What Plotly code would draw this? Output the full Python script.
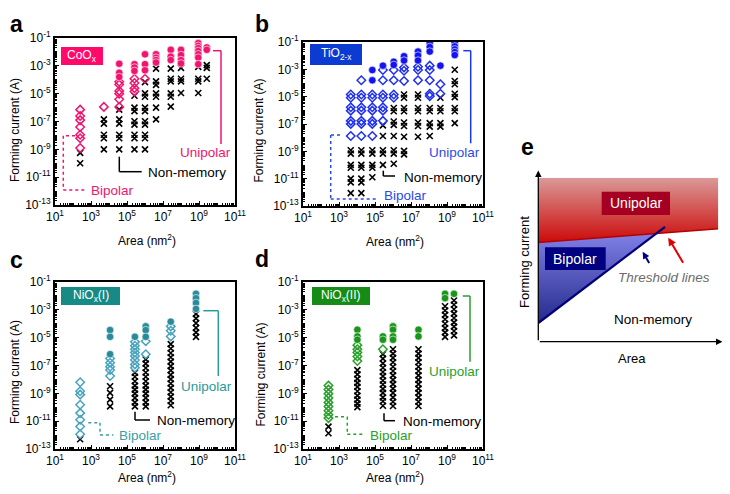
import plotly.graph_objects as go

W, H = 730, 494          # browser window
OFF = 8                  # default page body margin
FW, FH = W - OFF, H - OFF  # figure size so that it fits the window exactly
FONT = "Liberation Sans, Arial, sans-serif"

# ---------------- data (area in nm^2, forming current in A) ----------------
# Panel a: CoOx
coox_area = [2.5e2, 5.2e3, 3.7e4, 2.6e5, 1.0e6, 4.1e6, 2.7e7, 1.0e8, 9.1e8, 2.7e9]
coox_uni = [[], [], [1.41e-3, 3.16e-4, 1.58e-4], [1.32e-3, 7.6e-4, 4.3e-4],
            [6.8e-3, 1.32e-3, 4.8e-4], [6.8e-3, 3.9e-3, 2.6e-3, 1.74e-3],
            [1.41e-2, 4.6e-3, 2.6e-3], [1.41e-2, 6.0e-3, 2.6e-3, 1.48e-3],
            [4.3e-2, 2.75e-2, 1.86e-2, 1.17e-2, 6.8e-3, 3.9e-3, 1.32e-3],
            [2.1e-2, 1.41e-2]]
coox_bi = [[7.1e-7, 2.5e-7, 1.26e-7, 4.0e-8, 1.12e-8, 6.3e-9, 1.26e-9], [1.12e-6],
           [7.1e-5, 4.5e-5, 1.58e-5, 1.0e-5, 4.0e-6, 1.12e-6],
           [1.17e-4, 5.8e-5, 2.5e-5, 1.41e-5], [1.17e-4], [], [], [], [], []]
coox_non = [[5.6e-10, 1.0e-10],
            [1.41e-7, 7.1e-8, 1.12e-8, 6.3e-9, 1.0e-9],
            [7.1e-7, 1.41e-7, 7.1e-8, 1.12e-8, 6.3e-9, 1.0e-9],
            [7.1e-6, 1.0e-6, 5.6e-7, 1.05e-7, 6.0e-8, 1.12e-8, 6.3e-9, 1.0e-9],
            [6.8e-5, 1.05e-5, 6.0e-6, 1.0e-6, 5.6e-7, 1.05e-7, 6.0e-8, 1.12e-8, 6.3e-9, 1.0e-9],
            [6.3e-4, 7.6e-5, 4.3e-5, 1.05e-5, 6.0e-6, 1.0e-6, 1.41e-7],
            [6.3e-4, 1.17e-4, 7.6e-5, 1.05e-5, 6.0e-6, 1.17e-6],
            [7.1e-4, 1.17e-4, 7.6e-5, 1.12e-5],
            [8.5e-4, 1.17e-4, 7.6e-5, 1.12e-5],
            [1.12e-3, 7.1e-4, 1.17e-4]]

# Panel b: TiO2-x
tio2_area = [4.5e3, 1.74e4, 7.1e4, 2.75e5, 1.1e6, 4.1e6, 2.45e7, 1.1e8, 4.3e8, 2.7e9]
tio2_uni = [[], [], [8.9e-4, 1.58e-4], [1.86e-3], [3.6e-3, 2.1e-3], [9.1e-3, 4.4e-3],
            [2.0e-2, 1.02e-2, 4.4e-3], [8.5e-2, 4.3e-2, 2.0e-2], [1.86e-3],
            [8.9e-2, 4.8e-2, 2.9e-2, 1.82e-2, 1.1e-2]]
tio2_bi = [[1.45e-5, 8.3e-6, 1.66e-6, 9.5e-7, 1.7e-7, 1.02e-7, 1.32e-8],
           [1.58e-4, 1.45e-5, 8.3e-6, 1.66e-6, 9.5e-7, 1.7e-7, 1.02e-7, 1.32e-8],
           [1.45e-5, 8.3e-6, 1.66e-6, 9.5e-7, 1.7e-7, 1.02e-7, 1.32e-8],
           [8.9e-4, 1.58e-4, 1.45e-5, 8.3e-6, 1.66e-6, 9.5e-7, 1.7e-7],
           [8.9e-4, 1.58e-4, 1.45e-5, 8.3e-6],
           [1.38e-3, 7.9e-4, 1.41e-4],
           [1.55e-3, 8.9e-4, 1.58e-4],
           [1.86e-3, 8.9e-4, 1.58e-4, 1.62e-5, 1.1e-5],
           [8.1e-5, 1.62e-5], []]
tio2_non = [[1.2e-9, 6.8e-10, 1.02e-10, 6.3e-11, 1.0e-11, 5.4e-12, 8.7e-13],
            [1.2e-9, 6.8e-10, 1.02e-10, 6.3e-11, 1.0e-11, 5.4e-12, 8.7e-13],
            [1.2e-9, 6.8e-10, 1.02e-10, 6.3e-11, 1.26e-11],
            [7.9e-8, 1.32e-8, 1.2e-9, 6.8e-10, 1.02e-10],
            [1.48e-6, 8.5e-7, 1.51e-7, 8.7e-8, 1.32e-8, 1.2e-9, 6.8e-10, 1.23e-10],
            [1.45e-5, 8.3e-6, 1.48e-6, 8.5e-7, 1.29e-7, 7.2e-8, 1.17e-8, 1.07e-9, 6.0e-10],
            [1.45e-5, 8.3e-6, 1.48e-6, 8.5e-7, 1.29e-7, 7.2e-8, 1.17e-8],
            [1.48e-6, 8.5e-7, 1.15e-7, 6.5e-8, 1.32e-8],
            [8.3e-6, 1.48e-6, 8.5e-7, 1.15e-7, 6.5e-8],
            [9.3e-4, 1.41e-4, 8.1e-5, 1.62e-5, 9.3e-6, 1.48e-6, 8.5e-7, 1.15e-7]]

# Panel c: NiOx(I)
nio1_area = [2.5e2, 1.15e4, 2.75e5, 1.1e6, 2.7e7, 6.8e8]
nio1_uni = [[], [3.5e-5, 1.15e-5, 6.5e-7], [1.15e-5], [6.5e-5, 3.5e-5, 1.15e-5],
            [1.41e-4], [1.41e-2, 6.9e-3, 3.16e-3, 1.17e-3]]
nio1_bi = [[6.3e-9, 1.41e-9, 8.1e-10, 1.51e-10, 3.8e-11, 1.26e-11, 4.1e-12, 1.15e-12],
           [3.16e-7, 1.58e-7, 8.1e-8, 4.7e-8, 1.74e-8],
           [5.0e-6, 2.6e-6, 1.48e-6, 8.5e-7, 4.9e-7, 2.5e-7, 1.2e-7, 6.9e-8],
           [5.6e-6, 6.5e-7],
           [6.5e-5, 3.16e-5, 1.23e-5], []]
nio1_non = [[5.0e-13],
            [3.2e-9, 1.07e-9, 3.5e-10, 1.15e-10],
            [3.0e-8, 1.55e-8, 7.4e-9, 3.6e-9, 1.86e-9, 9.5e-10, 4.7e-10, 2.24e-10, 1.15e-10],
            [2.75e-7, 1.35e-7, 6.6e-8, 3.16e-8, 1.55e-8, 7.4e-9, 3.6e-9, 1.86e-9, 9.5e-10,
             4.7e-10, 2.24e-10, 1.15e-10],
            [3.4e-6, 1.66e-6, 7.9e-7, 3.9e-7, 1.9e-7, 9.1e-8, 4.5e-8, 2.1e-8, 1.05e-8, 5.1e-9,
             2.45e-9, 1.2e-9, 5.8e-10, 2.8e-10, 1.38e-10],
            [5.1e-4, 2.45e-4, 1.12e-4, 5.1e-5, 2.4e-5, 1.15e-5]]

# Panel d: NiOx(II)
nio2_area = [2.6e2, 1.05e4, 2.75e5, 1.0e6, 2.6e7, 7.8e8, 2.45e9]
nio2_uni = [[], [3.7e-5, 1.23e-5, 7.1e-6], [1.23e-5, 7.1e-6],
            [6.5e-5, 3.7e-5, 1.23e-5, 7.1e-6], [3.7e-5, 1.23e-5], [1.41e-2, 6.9e-3], [1.41e-2]]
nio2_bi = [[3.6e-9, 1.86e-9, 9.5e-10, 4.7e-10, 2.24e-10, 1.15e-10, 5.6e-11, 2.9e-11, 1.66e-11],
           [2.9e-6, 1.48e-6, 8.5e-7, 4.4e-7, 2.1e-7], [1.48e-6], [], [], [], []]
nio2_non = [[4.1e-12, 1.35e-12],
            [4.7e-8, 2.3e-8, 1.1e-8, 5.6e-9, 2.9e-9, 1.41e-9, 6.9e-10, 3.5e-10, 1.82e-10, 1.02e-10],
            [6.5e-7, 3.1e-7, 1.41e-7, 6.9e-8, 3.4e-8, 1.74e-8, 8.3e-9, 4.3e-9, 2.1e-9, 1.07e-9,
             5.1e-10, 2.7e-10, 1.29e-10],
            [1.48e-6, 7.2e-7, 3.5e-7, 1.7e-7, 8.1e-8, 4.0e-8, 1.95e-8, 9.3e-9, 4.6e-9, 2.2e-9,
             1.07e-9, 5.1e-10, 2.5e-10, 1.23e-10],
            [1.48e-6, 7.2e-7, 3.5e-7, 1.7e-7, 8.1e-8, 4.0e-8, 1.95e-8, 9.3e-9, 4.6e-9, 2.2e-9,
             1.07e-9, 5.1e-10, 2.5e-10, 1.23e-10],
            [1.82e-3, 8.9e-4, 4.3e-4, 2.1e-4, 1.0e-4, 4.9e-5, 2.4e-5, 1.15e-5],
            [4.7e-3, 2.3e-3, 1.1e-3, 5.4e-4, 2.6e-4, 1.26e-4, 6.2e-5, 3.0e-5, 1.45e-5]]

# tick labels
x_tickvals = [1e1, 1e3, 1e5, 1e7, 1e9, 1e11]
x_ticktext = ["10<sup>1</sup>", "10<sup>3</sup>", "10<sup>5</sup>", "10<sup>7</sup>",
              "10<sup>9</sup>", "10<sup>11</sup>"]
y_tickvals = [1e-1, 1e-3, 1e-5, 1e-7, 1e-9, 1e-11, 1e-13]
y_ticktext = ["10<sup>-1</sup>", "10<sup>-3</sup>", "10<sup>-5</sup>", "10<sup>-7</sup>",
              "10<sup>-9</sup>", "10<sup>-11</sup>", "10<sup>-13</sup>"]

# Panel e schematic (normalised axes 0..1)
uni_region_x = [0, 1, 1, 0]
uni_region_y = [1, 1, 0.689, 0.605]
uni_threshold_x = [0, 1]
uni_threshold_y = [0.605, 0.689]
bi_region_x = [0, 0, 0.656]
bi_region_y = [0.605, 0.114, 0.66]
bi_threshold_x = [0, 0.704]
bi_threshold_y = [0.114, 0.70]

# ---------------- helpers (page pixel -> paper fraction) ----------------
def px(x):
    return (x - OFF) / FW


def py(y):
    return 1 - (y - OFF) / FH


fig = go.Figure()
shapes = []
annotations = []


def flat(areas, cols):
    xs, ys = [], []
    for a, col in zip(areas, cols):
        xs += [a] * len(col)
        ys += list(col)
    return xs, ys


def add_text(x, y, text, size=13.5, color="black", xanchor="center", angle=0,
             italic=False, bold=False):
    f = dict(family=FONT, size=size, color=color)
    if italic:
        f["style"] = "italic"
    if bold:
        f["weight"] = "bold"
    annotations.append(dict(x=px(x), y=py(y), xref="paper", yref="paper", text=text,
                            showarrow=False, font=f, xanchor=xanchor, yanchor="middle",
                            textangle=angle))


def poly(points, color, dash="solid", width=1.5):
    for (x0, y0), (x1, y1) in zip(points[:-1], points[1:]):
        shapes.append(dict(type="line", xref="paper", yref="paper",
                           x0=px(x0), y0=py(y0), x1=px(x1), y1=py(y1),
                           line=dict(color=color, width=width, dash=dash)))


def box(x0, y0, x1, y1, fill, text, size=12):
    shapes.append(dict(type="rect", xref="paper", yref="paper", x0=px(x0), y0=py(y1),
                       x1=px(x1), y1=py(y0), fillcolor=fill, line=dict(width=0)))
    add_text((x0 + x1) / 2, (y0 + y1) / 2, text, size=size, color="white")


panels = [
    dict(ax="", areas=coox_area, uni=coox_uni, bi=coox_bi, non=coox_non,
         cu="#f0146e", cb="#f0146e", dom=(55, 235, 38, 205)),
    dict(ax="2", areas=tio2_area, uni=tio2_uni, bi=tio2_bi, non=tio2_non,
         cu="#1414f0", cb="#1f2ff0", dom=(303, 483, 42, 206)),
    dict(ax="3", areas=nio1_area, uni=nio1_uni, bi=nio1_bi, non=nio1_non,
         cu="#2a8a99", cb="#4aa3bd", dom=(55, 235, 282, 449)),
    dict(ax="4", areas=nio2_area, uni=nio2_uni, bi=nio2_bi, non=nio2_non,
         cu="#1a941a", cb="#2aa02a", dom=(303, 483, 282, 449)),
]

layout_axes = {}
for p in panels:
    xa, ya = "x" + p["ax"], "y" + p["ax"]
    x0, x1, y0, y1 = p["dom"]
    xs, ys = flat(p["areas"], p["non"])
    fig.add_trace(go.Scatter(x=xs, y=ys, mode="markers", xaxis=xa, yaxis=ya,
                             marker=dict(symbol="x-thin", size=6, color="black",
                                         line=dict(color="black", width=1.6)),
                             showlegend=False, hoverinfo="skip"))
    xs, ys = flat(p["areas"], p["bi"])
    fig.add_trace(go.Scatter(x=xs, y=ys, mode="markers", xaxis=xa, yaxis=ya,
                             marker=dict(symbol="diamond-open", size=6.5, color=p["cb"],
                                         line=dict(color=p["cb"], width=1.5)),
                             showlegend=False, hoverinfo="skip"))
    xs, ys = flat(p["areas"], p["uni"])
    fig.add_trace(go.Scatter(x=xs, y=ys, mode="markers", xaxis=xa, yaxis=ya,
                             marker=dict(symbol="circle", size=7.5, color=p["cu"],
                                         line=dict(color="white", width=0.6)),
                             showlegend=False, hoverinfo="skip"))
    common = dict(showline=True, linecolor="black", linewidth=2, mirror=True,
                  showgrid=False, zeroline=False, ticks="inside", ticklen=4,
                  tickwidth=1, tickcolor="black", automargin=False,
                  tickfont=dict(family=FONT, size=12, color="black"),
                  minor=dict(ticks="inside", ticklen=2, tickcolor="black", dtick="D1",
                             showgrid=False))
    key = "" if p["ax"] == "" else p["ax"]
    layout_axes["xaxis" + key] = dict(common, type="log", range=[1, 11],
                                      domain=[px(x0), px(x1)], anchor=ya,
                                      tickmode="array", tickvals=x_tickvals,
                                      ticktext=x_ticktext)
    layout_axes["yaxis" + key] = dict(common, type="log", range=[-13, -1],
                                      domain=[py(y1), py(y0)], anchor=xa,
                                      tickmode="array", tickvals=y_tickvals,
                                      ticktext=y_ticktext)

# ---- panel e ----
fig.add_trace(go.Scatter(x=uni_region_x, y=uni_region_y, mode="lines", fill="toself",
                         xaxis="x5", yaxis="y5", line=dict(width=0),
                         fillgradient=dict(type="vertical",
                                           colorscale=[[0, "#cc0a0a"], [1, "#d99a98"]]),
                         showlegend=False, hoverinfo="skip"))
fig.add_trace(go.Scatter(x=bi_region_x, y=bi_region_y, mode="lines", fill="toself",
                         xaxis="x5", yaxis="y5", line=dict(width=0),
                         fillgradient=dict(type="vertical",
                                           colorscale=[[0, "#262a8c"], [1, "#8080e6"]]),
                         showlegend=False, hoverinfo="skip"))
fig.add_trace(go.Scatter(x=uni_threshold_x, y=uni_threshold_y, mode="lines",
                         xaxis="x5", yaxis="y5", line=dict(color="#b40000", width=1.6),
                         showlegend=False, hoverinfo="skip"))
fig.add_trace(go.Scatter(x=bi_threshold_x, y=bi_threshold_y, mode="lines",
                         xaxis="x5", yaxis="y5", line=dict(color="#00007a", width=2.2),
                         showlegend=False, hoverinfo="skip"))
layout_axes["xaxis5"] = dict(domain=[px(538.3), px(718.3)], range=[0, 1], visible=False,
                             anchor="y5", fixedrange=True, automargin=False)
layout_axes["yaxis5"] = dict(domain=[py(341.7), py(177.7)], range=[0, 1], visible=False,
                             anchor="x5", fixedrange=True, automargin=False)

# ---- panel annotations a-d ----
box(61, 47, 103, 65, "#ff0a6a", "CoO<sub>x</sub>")
poly([(213, 50.7), (221, 50.7), (221, 144)], "#f0146e")
add_text(205, 153, "Unipolar", color="#f0146e")
poly([(119.3, 156.7), (119.3, 171.7), (141.7, 171.7)], "black")
add_text(145.5, 173, "Non-memory", xanchor="left")
poly([(75, 135.7), (63.3, 135.7), (63.3, 190), (86, 190)], "#f0146e", dash="dot")
add_text(89, 190.5, "Bipolar", color="#f0146e", xanchor="left")

box(310, 44, 362, 65, "#0b3bd1", "TiO<sub>2-x</sub>")
poly([(463.3, 50.7), (470.7, 50.7), (470.7, 143.3)], "#1a3ae6")
add_text(454.5, 153, "Unipolar", color="#2a4ae6")
poly([(383.3, 170.7), (383.3, 176), (395, 176)], "black")
add_text(402, 177, "Non-memory", xanchor="left")
poly([(340, 135), (330.7, 135), (330.7, 199), (377.3, 199)], "#2a4ae6", dash="dot")
add_text(382, 195, "Bipolar", color="#2a4ae6", xanchor="left")

box(61, 287, 120, 305, "#178a85", "NiO<sub>x</sub>(I)")
poly([(203.3, 310.7), (218.3, 310.7), (218.3, 376)], "#2a9a9a")
add_text(206, 386, "Unipolar", color="#2a9a9a")
poly([(135, 411.7), (135, 420), (150, 420)], "black")
add_text(155, 420.5, "Non-memory", xanchor="left")
poly([(88.3, 422.7), (100, 422.7), (100, 435), (113.3, 435)], "#3a9fa5", dash="dot")
add_text(117, 435, "Bipolar", color="#3a9fa5", xanchor="left")

box(312, 287, 370, 305, "#168c16", "NiO<sub>x</sub>(II)")
poly([(462.7, 296), (470, 296), (470, 361.7)], "#2aa02a")
add_text(454.5, 371.7, "Unipolar", color="#2aa02a")
poly([(384, 413.3), (384, 420.7), (395, 420.7)], "black")
add_text(401.5, 421, "Non-memory", xanchor="left")
poly([(335, 416.7), (347.3, 416.7), (347.3, 434.3), (364, 434.3)], "#2aa02a", dash="dot")
add_text(367.5, 435, "Bipolar", color="#2aa02a", xanchor="left")

# axis titles (kept clear of the page edge)
for (xc, yc) in [(15, 130), (258.5, 131), (15, 372), (260.5, 375)]:
    add_text(xc, yc, "Forming current (A)", size=12, angle=-90)
for (xc, yc) in [(147, 240), (395, 241), (147, 477), (395, 477)]:
    add_text(xc, yc, "Area (nm<sup>2</sup>)", size=12)

# panel letters
for (xc, yc, t) in [(16, 24, "a"), (262, 24, "b"), (16, 260, "c"), (262, 259, "d"),
                    (527, 147, "e")]:
    add_text(xc, yc, t, size=23, bold=True)

# panel e labels & arrows
box(601.7, 191.7, 670, 215, "#a50021", "Unipolar", size=14)
box(545, 247.3, 605.7, 270, "#000080", "Bipolar", size=14)
add_text(664, 277, "Threshold lines", size=13.5, color="#6b6b6b", italic=True)
add_text(652.5, 319, "Non-memory", size=13.5)
add_text(525, 262, "Forming current", size=13, angle=-90)
add_text(631.7, 358, "Area", size=13)


def arrow(hx, hy, tx, ty, color, width=2, head=2, size=1.0):
    annotations.append(dict(x=px(hx), y=py(hy), xref="paper", yref="paper", text="",
                            showarrow=True, ax=tx - hx, ay=ty - hy, axref="pixel",
                            ayref="pixel", arrowhead=head, arrowsize=size,
                            arrowwidth=width, arrowcolor=color))


arrow(642.7, 251.7, 650, 264.5, "#00008b", width=2, size=0.7)
arrow(668.3, 237.7, 684, 264.3, "#e00000", width=2, size=0.8)
arrow(538.3, 170.5, 538.3, 341.7, "black", width=1.3, size=1.0)
arrow(722.5, 341.7, 538.3, 341.7, "black", width=1.3, size=1.0)

fig.update_layout(width=FW, height=FH, margin=dict(l=0, r=0, t=0, b=0, autoexpand=False),
                  paper_bgcolor="white", plot_bgcolor="rgba(0,0,0,0)",
                  showlegend=False, shapes=shapes, annotations=annotations,
                  font=dict(family=FONT, color="black"), **layout_axes)

fig.write_html("out.html")
